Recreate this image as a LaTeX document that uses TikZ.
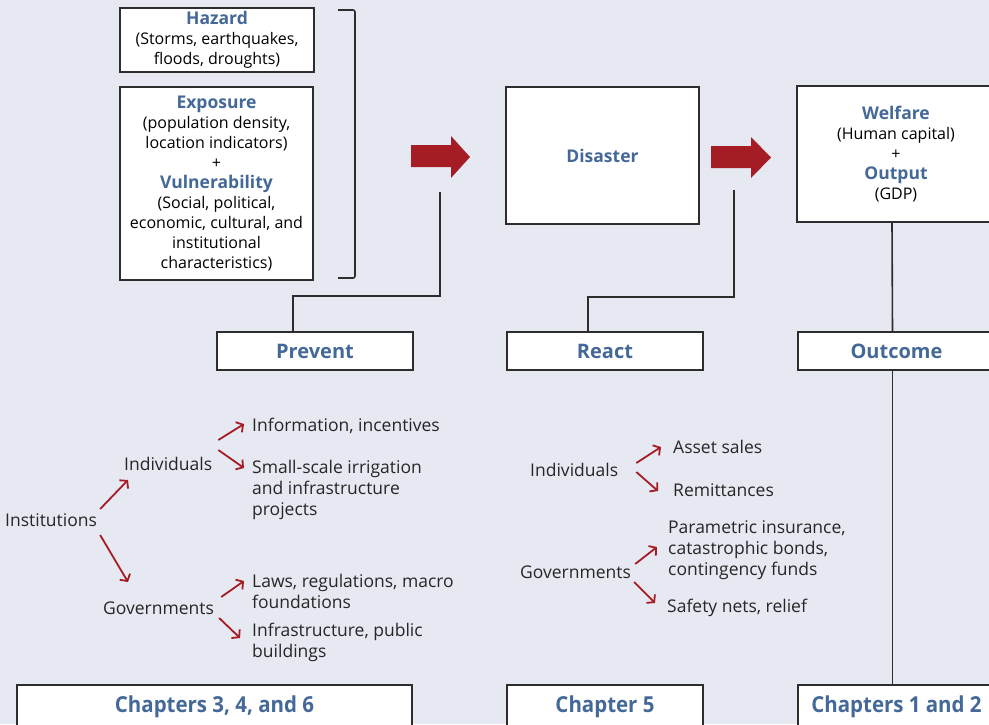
\documentclass[tikz,border=0pt]{standalone}
\usepackage{fontspec}
\setmainfont{Open Sans}
\usepackage{tikz}
\usetikzlibrary{arrows.meta,positioning}
\definecolor{bgcol}{RGB}{230,233,242}
\definecolor{ttlblue}{RGB}{68,104,152}
\definecolor{arrred}{RGB}{166,28,36}
\definecolor{edgecol}{RGB}{45,45,45}
\newcommand{\ttl}[1]{{\color{ttlblue}\bfseries\fontsize{17.5}{20}\selectfont #1}}
\newcommand{\chp}[1]{\scalebox{0.93}[1]{\color{ttlblue}\bfseries\fontsize{22}{24}\selectfont #1}}

\begin{document}
\begin{tikzpicture}[x=1pt, y=-1pt,
    box/.style={draw=edgecol, fill=white, line width=1.6pt, inner sep=0pt, align=center,
        font=\fontsize{16}{20}\selectfont},
    lbl/.style={anchor=west, inner sep=0pt, align=left, text=black!85,
        font=\fontsize{17.5}{21}\selectfont},
    conn/.style={draw=edgecol, line width=1.6pt},
    rarrow/.style={draw=arrred, line width=1.8pt, -{Straight Barb[length=5pt,width=12pt]}}
]
\useasboundingbox (0,0) rectangle (989,724);
\fill[bgcol] (0,0) rectangle (989,724);

% top row
\node[box, minimum width=194pt, minimum height=64pt] (hazard) at (217,40)
    {\ttl{Hazard}\\(Storms, earthquakes,\\floods, droughts)};
\node[box, minimum width=193pt, minimum height=193pt] (expo) at (216.5,183.5)
    {\ttl{Exposure}\\(population density,\\location indicators)\\+\\\ttl{Vulnerability}\\(Social, political,\\economic, cultural, and\\institutional\\characteristics)};
\draw[conn, rounded corners=2pt] (338,10) -- (355,10) -- (355,278) -- (338,278);

\node[box, minimum width=193pt, minimum height=137pt] (disaster) at (602.5,155.5) {\ttl{Disaster}};
\node[box, minimum width=198pt, minimum height=136pt] (welfare) at (896,154)
    {\ttl{Welfare}\\(Human capital)\\+\\\ttl{Output}\\(GDP)};

\fill[arrred] (411,145) -- (451,145) -- (451,136) -- (470,157) -- (451,178) -- (451,167) -- (411,167) -- cycle;
\fill[arrred] (711,146) -- (751,146) -- (751,137) -- (771,157.5) -- (751,178) -- (751,168) -- (711,168) -- cycle;

% middle row
\node[box, minimum width=196pt, minimum height=38pt] (prevent) at (315,351) {\ttl{\fontsize{20}{22}\selectfont Prevent}};
\node[box, minimum width=196pt, minimum height=38pt] (react) at (605,351) {\ttl{\fontsize{20}{22}\selectfont React}};
\node[box, minimum width=197pt, minimum height=38pt] (outcome) at (896.5,351) {\ttl{\fontsize{20}{22}\selectfont Outcome}};

\coordinate (pretop) at (440,192);
\coordinate (reacttop) at (734,190);
\draw[conn] (pretop) -- ++(0,104) -| ([xshift=-22pt]prevent.north);
\draw[conn] (reacttop) -- ++(0,107) -| ([xshift=-17pt]react.north);

% bottom row
\node[box, minimum width=395pt, minimum height=44pt] (chA) at (214.5,707) {\chp{Chapters 3, 4, and 6}};
\node[box, minimum width=196pt, minimum height=44pt] (chB) at (605,707) {\chp{Chapter 5}};
\node[box, minimum width=197pt, minimum height=44pt] (chC) at (896.5,707) {\chp{Chapters 1 and 2}};

\draw[conn] ([xshift=-4pt]welfare.south) -- ([xshift=-4pt]outcome.north);
\draw[conn] ([xshift=-4pt]outcome.south) -- ([xshift=-4pt]chC.north);

% prevent side
\node[lbl] (inst) at (5,520) {Institutions};
\node[lbl] (indiv) at (124,464) {Individuals};
\node[lbl] (gov) at (103,608) {Governments};
\node[lbl] (info) at (252,426) {Information, incentives};
\node[lbl] (small) at (252,490) {Small-scale irrigation\\and infrastructure\\projects};
\node[lbl] (laws) at (252,591.5) {Laws, regulations, macro\\foundations};
\node[lbl] (infra) at (252,642.5) {Infrastructure, public\\buildings};

\draw[rarrow] ([shift={(3pt,11pt)}]inst.east) -- ([shift={(4pt,-16pt)}]indiv.west);
\draw[rarrow] ([shift={(3pt,-15pt)}]inst.east) -- ([shift={(25pt,26pt)}]gov.west);
\draw[rarrow] ([shift={(6pt,24pt)}]indiv.east) -- ([shift={(-8pt,2pt)}]info.west);
\draw[rarrow] ([shift={(6pt,14pt)}]indiv.east) -- ([shift={(-8pt,22pt)}]small.west);
\draw[rarrow] ([shift={(7pt,11pt)}]gov.east) -- ([shift={(-8pt,10.5pt)}]laws.west);
\draw[rarrow] ([shift={(5pt,-10pt)}]gov.east) -- ([shift={(-12pt,4.5pt)}]infra.west);

% react side
\node[lbl] (indivR) at (530,470) {Individuals};
\node[lbl] (govR) at (520,572) {Governments};
\node[lbl] (asset) at (673,447) {Asset sales};
\node[lbl] (remit) at (673,490) {Remittances};
\node[lbl] (param) at (668,550) {Parametric insurance,\\catastrophic bonds,\\contingency funds};
\node[lbl] (safety) at (667,608) {Safety nets, relief};

\draw[rarrow] ([shift={(18pt,7pt)}]indivR.east) -- ([shift={(-12pt,0pt)}]asset.west);
\draw[rarrow] ([shift={(18pt,-2pt)}]indivR.east) -- ([shift={(-15pt,-1pt)}]remit.west);
\draw[rarrow] ([shift={(4pt,8pt)}]govR.east) -- ([shift={(-11pt,3pt)}]param.west);
\draw[rarrow] ([shift={(3pt,-10pt)}]govR.east) -- ([shift={(-12pt,5pt)}]safety.west);

\end{tikzpicture}
\end{document}
